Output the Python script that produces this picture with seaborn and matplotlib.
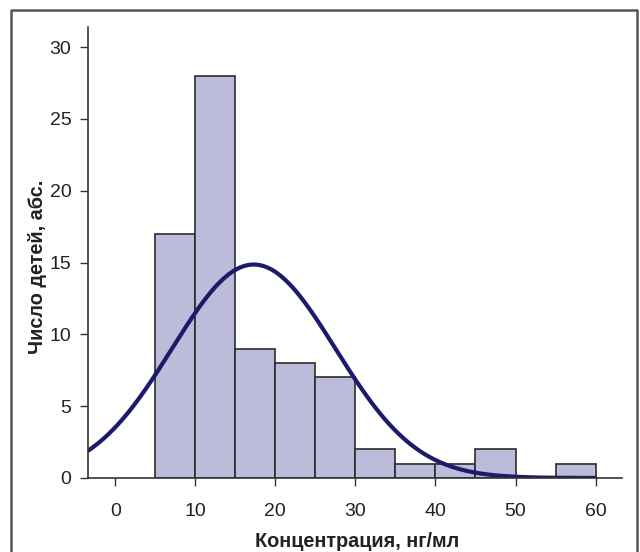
import numpy as np
import pandas as pd
import matplotlib
matplotlib.use("Agg")
import matplotlib.pyplot as plt
import seaborn as sns
from matplotlib.lines import Line2D

# Data
bin_edges = [5, 10, 15, 20, 25, 30, 35, 40, 45, 50, 55, 60]
counts = [17, 28, 9, 8, 7, 2, 1, 1, 2, 0, 1]
x_ticks = [0, 10, 20, 30, 40, 50, 60]
y_ticks = [0, 5, 10, 15, 20, 25, 30]
# fitted normal curve parameters
fit_mean = 17.3
fit_sd = 10.2

sns.set_theme(style="white")
plt.rcParams['font.family'] = ['Liberation Sans', 'DejaVu Sans']

fig = plt.figure(figsize=(6.4, 5.52), dpi=100)
ax = fig.add_axes([88/640, 1-478/552, (622-88)/640, (478-27)/552])

centers = [(bin_edges[i] + bin_edges[i+1]) / 2 for i in range(len(counts))]
df = pd.DataFrame({"x": centers, "w": counts})
sns.histplot(data=df, x="x", weights="w", bins=bin_edges, ax=ax,
             color="#bcbbd9", edgecolor="#2b2b2b", linewidth=1.2, alpha=1)

n_total = sum(counts)
bw = bin_edges[1] - bin_edges[0]
xs = np.linspace(-3.4, 60, 400)
ys = n_total * bw / (fit_sd * np.sqrt(2*np.pi)) * np.exp(-(xs - fit_mean)**2 / (2*fit_sd**2))
sns.lineplot(x=xs, y=ys, ax=ax, color="#1c1a6b", linewidth=3)

ax.set_xlim(-3.4, 63.3)
ax.set_ylim(0, 31.4)
ax.set_xticks(x_ticks)
ax.set_yticks(y_ticks)
ax.tick_params(axis='both', direction='out', length=6, width=1, color="#333333",
               labelsize=14, labelcolor="#222222", bottom=True, left=True, pad=6)
ax.tick_params(axis='x', pad=12)
for s in ['top', 'right']:
    ax.spines[s].set_visible(False)
for s in ['left', 'bottom']:
    ax.spines[s].set_color("#333333")
    ax.spines[s].set_linewidth(1.2)
ax.set_xlabel("Концентрация, нг/мл", fontsize=14.3, fontweight='bold', color="#222222")
ax.set_ylabel("Число детей, абс.", fontsize=14.3, fontweight='bold', color="#222222")
ax.xaxis.set_label_coords(0.504, -0.14)
ax.yaxis.set_label_coords(-0.094, 0.468)
ax.xaxis.label.set_va('center')
ax.yaxis.label.set_va('center')

# outer frame
fx = [11/640, 11/640, 637/640, 637/640]
fy = [0, 1-10/552, 1-10/552, 0]
fig.add_artist(Line2D(fx, fy, transform=fig.transFigure, color="#555555", linewidth=1.8))

fig.savefig("out.png", dpi=100)
